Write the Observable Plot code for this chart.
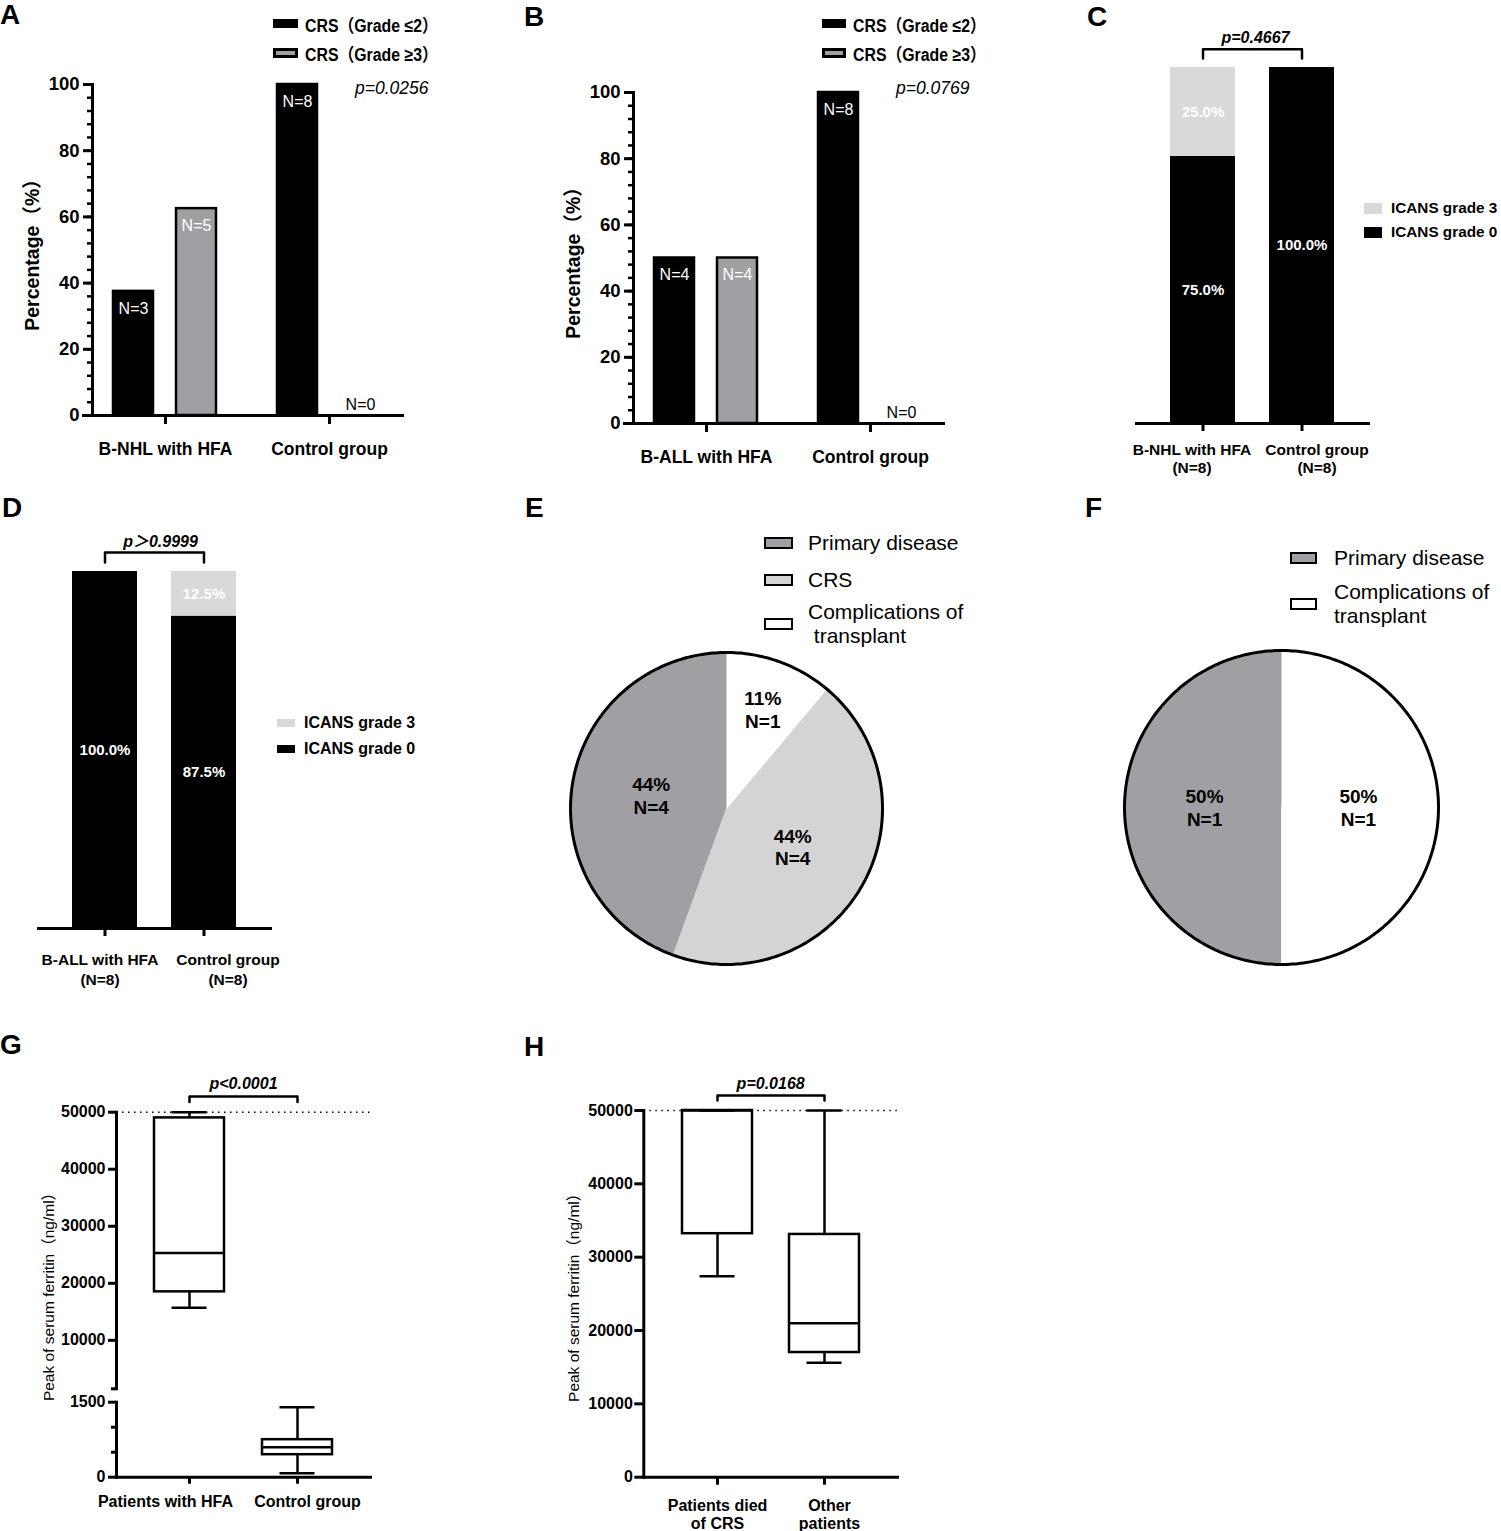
<!DOCTYPE html>
<html><head><meta charset="utf-8">
<script src="https://cdn.jsdelivr.net/npm/d3@7"></script>
<script src="https://cdn.jsdelivr.net/npm/@observablehq/plot@0.6"></script>
<style>
body{margin:0;background:#fff;}
#fig{position:relative;width:1501px;height:1531px;overflow:hidden;background:#fff;font-family:'Liberation Sans',Arial,Helvetica,'Noto Sans CJK SC',sans-serif;color:#000;}
.abs{position:absolute;}
.letter{position:absolute;font-weight:bold;font-size:28px;line-height:1;}
.leg{position:absolute;display:flex;align-items:center;white-space:pre;transform:translateY(-50%);}
</style></head><body><div id="fig"></div>
<script>
// ---------------- DATA ----------------
// Panel A: CRS grade, B-NHL
const groupsA = ["B-NHL with HFA", "Control group"];
const gradesCRS = ["CRS（Grade ≤2）", "CRS（Grade ≥3）"];
const pctA_le2 = [37.5, 100];
const pctA_ge3 = [62.5, 0];
const nA_le2 = [3, 8];
const nA_ge3 = [5, 0];
const pA = "p=0.0256";
// Panel B: CRS grade, B-ALL
const groupsB = ["B-ALL with HFA", "Control group"];
const pctB_le2 = [50, 100];
const pctB_ge3 = [50, 0];
const nB_le2 = [4, 8];
const nB_ge3 = [4, 0];
const pB = "p=0.0769";
// Panel C: ICANS, B-NHL
const icansGrades = ["ICANS grade 3", "ICANS grade 0"];
const groupsC = ["B-NHL with HFA\n(N=8)", "Control group\n(N=8)"];
const pctC_g0 = [75.0, 100.0];
const pctC_g3 = [25.0, 0];
const pC = "p=0.4667";
// Panel D: ICANS, B-ALL
const groupsD = ["B-ALL with HFA\n(N=8)", "Control group\n(N=8)"];
const pctD_g0 = [100.0, 87.5];
const pctD_g3 = [0, 12.5];
const pD = "p＞0.9999";
// Panel E: causes of death
const causesE = ["Primary disease", "CRS", "Complications of\n transplant"];
const nE = [4, 4, 1];
const pctE = [44, 44, 11];
// Panel F
const causesF = ["Primary disease", "Complications of\ntransplant"];
const nF = [1, 1];
const pctF = [50, 50];
// Panel G: peak serum ferritin (box: min, q1, median, q3, max)
const groupsG = ["Patients with HFA", "Control group"];
const minG = [15700, 80];
const q1G = [18500, 450];
const medG = [25300, 600];
const q3G = [49000, 750];
const maxG = [50000, 1400];
const pG = "p<0.0001";
// Panel H
const groupsH = ["Patients died\nof CRS", "Other\npatients"];
const minH = [27400, 15600];
const q1H = [33200, 17000];
const medH = [50000, 21000];
const q3H = [50000, 33100];
const maxH = [50000, 50000];
const pH = "p=0.0168";
const ferritinCap = 50000;
const yTicksPct = [0, 20, 40, 60, 80, 100];
const yTicksFerritin = [0, 10000, 20000, 30000, 40000, 50000];

// ---------------- STYLE ----------------
const FONT = "'Liberation Sans', Arial, Helvetica, 'Noto Sans CJK SC', sans-serif";
const BLACK = "#000", GREY = "#a0a0a4", LIGHT = "#d9d9d9", PIE_DARK = "#a0a0a4", PIE_LIGHT = "#d4d4d4";
const baseStyle = {fontFamily: FONT, background: "transparent", overflow: "visible", maxWidth: "none", color: "#000"};
const fig = document.getElementById("fig");

function mount(node, left, top, w) {
  const d = document.createElement("div");
  d.className = "abs";
  d.style.left = left + "px"; d.style.top = top + "px"; d.style.width = w + "px";
  d.appendChild(node); fig.appendChild(d);
}
function letter(t, left, capTop) {
  const d = document.createElement("div"); d.className = "letter"; d.textContent = t;
  d.style.left = left + "px"; d.style.top = (capTop - 4) + "px"; fig.appendChild(d);
}
function legendRow(x, cy, sw, sh, fill, border, gap, label, font, lh, squeeze) {
  const r = document.createElement("div"); r.className = "leg";
  r.style.left = x + "px"; r.style.top = cy + "px";
  const s = document.createElement("span");
  Object.assign(s.style, {display: "inline-block", width: sw + "px", height: sh + "px", background: fill,
    border: border ? `${border}px solid #000` : "none", boxSizing: "border-box", marginRight: gap + "px", flex: "none"});
  const t = document.createElement("span"); t.textContent = label; t.style.font = font; t.style.lineHeight = lh || "normal";
  if (squeeze) { t.style.display = "inline-block"; t.style.transform = `scaleX(${squeeze})`; t.style.transformOrigin = "left center"; }
  r.appendChild(s); r.appendChild(t); fig.appendChild(r);
}
// category labels with individual horizontal offsets (as in the original layout) + tick marks
function xAxisMarks(groups, offsets, o) {
  return [
    Plot.axisX({tickSize: o.tickSize, tickFormat: () => "", strokeWidth: 3, label: null}),
    ...groups.map((g, i) => Plot.axisX({ticks: [g], tickSize: 0, tickPadding: o.tickSize + o.tickPadding, dx: offsets[i],
      fontSize: o.fontSize, fontWeight: "bold", lineHeight: o.lineHeight, label: null}))
  ];
}

// ---------------- PANELS A & B ----------------
function crsRows(groups, le2, ge3, nle2, nge3) {
  const rows = [];
  groups.forEach((g, i) => {
    rows.push({group: g, grade: gradesCRS[0], pct: le2[i], n: nle2[i]});
    rows.push({group: g, grade: gradesCRS[1], pct: ge3[i], n: nge3[i]});
  });
  return rows;
}
function crsPlot(rows, groups, pText, pdy) {
  return Plot.plot({
    width: 490, height: 480, marginLeft: 92, marginRight: 88, marginTop: 84, marginBottom: 65,
    style: baseStyle,
    fx: {domain: groups, paddingInner: 0.11, paddingOuter: 0, axis: null, label: null},
    x: {domain: gradesCRS, paddingInner: 0.365, paddingOuter: 0.341, axis: null},
    y: {domain: [0, 100], axis: null},
    color: {domain: gradesCRS, range: [BLACK, GREY]},
    marks: [
      Plot.barY(rows, {fx: "group", x: "grade", y: "pct", fill: "grade", stroke: BLACK, strokeWidth: 2.5}),
      Plot.text(rows.filter(d => d.pct > 0), {fx: "group", x: "grade", y: "pct", text: d => `N=${d.n}`, dy: 17, fill: "white", fontSize: 16}),
      Plot.text(rows.filter(d => d.pct === 0), {fx: "group", x: "grade", y: "pct", text: d => `N=${d.n}`, dy: -11, fill: BLACK, fontSize: 16}),
      Plot.axisY({ticks: d3.range(0, 101, 4), tickSize: 5, tickFormat: () => "", strokeWidth: 2.5, label: null}),
      Plot.axisY({ticks: yTicksPct, tickSize: 9, tickPadding: 4, fontSize: 18.5, fontWeight: "bold", strokeWidth: 3, label: null}),
      Plot.axisY({ticks: [], label: "Percentage（%）", labelAnchor: "center", labelArrow: "none", labelOffset: 67, fontSize: 19.5, fontWeight: "bold"}),
      Plot.axisFx({anchor: "bottom", tickSize: 9, tickPadding: 18, fontSize: 17.5, fontWeight: "bold", strokeWidth: 3, label: null}),
      Plot.frame({anchor: "left", facet: "super", strokeWidth: 3}),
      Plot.frame({anchor: "bottom", facet: "super", strokeWidth: 3, insetLeft: -9}),
      Plot.text([pText], {facet: "super", text: d => d, frameAnchor: "top-right", textAnchor: "end", dx: 26, dy: pdy, fontStyle: "italic", fontSize: 17.5})
    ]
  });
}
mount(crsPlot(crsRows(groupsA, pctA_le2, pctA_ge3, nA_le2, nA_ge3), groupsA, pA, -3), 0, 0, 490);
mount(crsPlot(crsRows(groupsB, pctB_le2, pctB_ge3, nB_le2, nB_ge3), groupsB, pB, -11), 541, 8, 490);
const crsFont = `bold 18px ${FONT}`;
legendRow(273, 23.5, 25, 9, BLACK, 0, 7, gradesCRS[0], crsFont, "normal", 0.88);
legendRow(273, 53, 25, 10, GREY, 3, 7, gradesCRS[1], crsFont, "normal", 0.88);
legendRow(822, 23.5, 24, 9, BLACK, 0, 7, gradesCRS[0], crsFont, "normal", 0.88);
legendRow(822, 53, 24, 10, GREY, 3, 7, gradesCRS[1], crsFont, "normal", 0.88);

// ---------------- PANELS C & D ----------------
function icansRows(groups, g0, g3) {
  const rows = [];
  groups.forEach((g, i) => {
    rows.push({group: g, grade: icansGrades[1], pct: g0[i]});
    rows.push({group: g, grade: icansGrades[0], pct: g3[i]});
  });
  return rows;
}
function icansPlot(rows, groups, pText, c) {
  const br = [
    {group: groups[0], y: c.lo}, {group: groups[0], y: c.hi},
    {group: groups[1], y: c.hi}, {group: groups[1], y: c.lo}
  ];
  return Plot.plot({
    width: c.w, height: c.h, marginLeft: c.ml, marginRight: c.mr, marginTop: c.mt, marginBottom: c.mb,
    style: baseStyle,
    x: {domain: groups, padding: 0.343, axis: null},
    y: {domain: [0, 100], axis: null},
    color: {domain: icansGrades, range: [LIGHT, BLACK]},
    marks: [
      Plot.barY(rows, {x: "group", y: "pct", fill: "grade"}),
      Plot.text(rows, Plot.stackY({x: "group", y: "pct", z: "grade", text: d => d.pct > 0 ? d.pct.toFixed(1) + "%" : "", fill: "white", fontSize: 15, fontWeight: "bold"})),
      Plot.frame({anchor: "bottom", strokeWidth: 3}),
      ...xAxisMarks(groups, c.off, {tickSize: 8, tickPadding: c.tp, fontSize: 15.5, lineHeight: c.lh}),
      Plot.line(br, {x: "group", y: "y", strokeWidth: 2.5}),
      Plot.text([{label: pText, y: c.ty}], {y: "y", text: "label", frameAnchor: "middle", dx: c.pdx, fontSize: 16, fontWeight: "bold", fontStyle: "italic"})
    ]
  });
}
mount(icansPlot(icansRows(groupsC, pctC_g0, pctC_g3), groupsC, pC,
  {w: 501, h: 480, ml: 136, mr: 133, mt: 67, mb: 57, tp: 11, lh: 1.15, off: [-11, 15], hi: 105.1, lo: 102.5, ty: 108.4, pdx: 3}), 1000, 0, 501);
mount(icansPlot(icansRows(groupsD, pctD_g0, pctD_g3), groupsD, pD,
  {w: 500, h: 500, ml: 38, mr: 230, mt: 71, mb: 72, tp: 14, lh: 1.32, off: [-5, 24], hi: 105.3, lo: 102.5, ty: 108.4, pdx: 6}), 0, 500, 500);
legendRow(1364, 208, 18, 11, LIGHT, 0, 9, icansGrades[0], `bold 15.3px ${FONT}`);
legendRow(1364, 232, 18, 11, BLACK, 0, 9, icansGrades[1], `bold 15.3px ${FONT}`);
legendRow(277, 723, 18, 8, LIGHT, 0, 9, icansGrades[0], `bold 16px ${FONT}`);
legendRow(277, 749, 18, 8, BLACK, 0, 9, icansGrades[1], `bold 16px ${FONT}`);

// ---------------- PANELS E & F (pies) ----------------
function piePlot(causes, ns, pcts, fills, c) {
  const arcs = d3.pie().sort(null).startAngle(0).endAngle(-2 * Math.PI)(ns);
  const slices = [];
  arcs.forEach((a, i) => {
    const steps = Math.max(2, Math.ceil(Math.abs(a.endAngle - a.startAngle) * 180 / Math.PI));
    slices.push({cause: causes[i], px: 0, py: 0});
    for (let k = 0; k <= steps; k++) {
      const t = a.startAngle + (a.endAngle - a.startAngle) * k / steps;
      slices.push({cause: causes[i], px: Math.sin(t), py: Math.cos(t)});
    }
  });
  const ring = d3.range(0, 361).map(k => ({px: Math.sin(k * Math.PI / 180), py: Math.cos(k * Math.PI / 180)}));
  const labels = arcs.map((a, i) => {
    const m = (a.startAngle + a.endAngle) / 2;
    const frac = Math.abs(a.endAngle - a.startAngle) / (2 * Math.PI);
    const rr = frac < 0.2 ? 0.68 : 0.49;
    return {px: rr * Math.sin(m), py: rr * Math.cos(m), text: `${pcts[i]}%\nN=${ns[i]}`};
  });
  return Plot.plot({
    width: c.w, height: c.h, marginLeft: c.ml, marginRight: c.mr, marginTop: c.mt, marginBottom: c.mb,
    style: baseStyle,
    x: {domain: [-1, 1], axis: null}, y: {domain: [-1, 1], axis: null},
    color: {domain: causes, range: fills},
    marks: [
      Plot.line(slices, {x: "px", y: "py", z: "cause", fill: "cause", stroke: "cause", strokeWidth: 0.8}),
      Plot.line(ring, {x: "px", y: "py", strokeWidth: 3}),
      Plot.text(labels, {x: "px", y: "py", text: "text", fontSize: 19, fontWeight: "bold", lineHeight: 1.2})
    ]
  });
}
mount(piePlot(causesE, nE, pctE, [PIE_DARK, PIE_LIGHT, "#fff"], {w: 500, h: 500, ml: 70, mr: 118, mt: 152, mb: 36}), 500, 500, 500);
mount(piePlot(causesF, nF, pctF, [PIE_DARK, "#fff"], {w: 501, h: 500, ml: 124, mr: 63, mt: 150, mb: 36}), 1000, 500, 501);
const pieFont = `21px ${FONT}`;
legendRow(764, 543, 29, 12, PIE_DARK, 2.5, 15, causesE[0], pieFont);
legendRow(764, 580, 29, 12, PIE_LIGHT, 2.5, 15, causesE[1], pieFont);
legendRow(764, 624, 29, 12, "#fff", 2.5, 15, causesE[2], pieFont, "24px");
legendRow(1290, 558, 27, 12, PIE_DARK, 2.5, 17, causesF[0], pieFont);
legendRow(1290, 604, 27, 12, "#fff", 2.5, 17, causesF[1], pieFont, "24px");

// ---------------- PANELS G & H (boxes) ----------------
function boxRows(groups, mn, q1, md, q3, mx) {
  return groups.map((g, i) => ({group: g, min: mn[i], q1: q1[i], med: md[i], q3: q3[i], max: mx[i]}));
}
function boxMarks(rows, capInset) {
  return [
    Plot.ruleX(rows, {x: "group", y1: "min", y2: "max", strokeWidth: 2.5}),
    Plot.barY(rows, {x: "group", y1: "q1", y2: "q3", fill: "white", stroke: BLACK, strokeWidth: 2.5}),
    Plot.tickY(rows, {x: "group", y: "med", strokeWidth: 2.5}),
    Plot.tickY(rows, {x: "group", y: "min", strokeWidth: 2.5, inset: capInset}),
    Plot.tickY(rows, {x: "group", y: "max", strokeWidth: 2.5, inset: capInset})
  ];
}
function bracketMarks(groups, pText, hi, lo, ty) {
  const br = [{group: groups[0], y: lo}, {group: groups[0], y: hi}, {group: groups[1], y: hi}, {group: groups[1], y: lo}];
  return [
    Plot.line(br, {x: "group", y: "y", strokeWidth: 2.5}),
    Plot.text([{label: pText, y: ty}], {y: "y", text: "label", frameAnchor: "middle", fontSize: 16, fontWeight: "bold", fontStyle: "italic"})
  ];
}
const fmtInt = d3.format("d");
const rowsG = boxRows(groupsG, minG, q1G, medG, q3G, maxG);
const breakLow = 1500;   // axis break: lower segment 0–1500
// upper segment of G
mount(Plot.plot({
  width: 500, height: 360, marginLeft: 116, marginRight: 130, marginTop: 81.7, marginBottom: 1.7,
  style: baseStyle,
  x: {domain: groupsG, paddingInner: 0.355, paddingOuter: 0.348, axis: null},
  y: {domain: [breakLow, ferritinCap], axis: null},
  marks: [
    Plot.ruleY([ferritinCap], {strokeDasharray: "1.5,4.5", strokeWidth: 1.5}),
    ...boxMarks(rowsG.filter(d => d.min >= breakLow), 17.5),
    Plot.frame({anchor: "left", strokeWidth: 3}),
    Plot.axisY({ticks: yTicksFerritin.filter(t => t > breakLow), tickFormat: fmtInt, tickSize: 8, tickPadding: 3, fontSize: 16, fontWeight: "bold", strokeWidth: 3, label: null}),
    Plot.axisY({ticks: [breakLow], tickFormat: () => "", tickSize: 5, strokeWidth: 3, label: null}),
    ...bracketMarks(groupsG, pG, 52750, 51790, 55030)
  ]
}), 0, 1030, 500);
// lower segment of G
mount(Plot.plot({
  width: 500, height: 141, marginLeft: 116, marginRight: 130, marginTop: 11.7, marginBottom: 54.3,
  style: baseStyle,
  x: {domain: groupsG, paddingInner: 0.355, paddingOuter: 0.348, axis: null},
  y: {domain: [0, breakLow], axis: null},
  marks: [
    ...boxMarks(rowsG.filter(d => d.max <= breakLow), 17.5),
    Plot.frame({anchor: "left", strokeWidth: 3}),
    Plot.frame({anchor: "bottom", strokeWidth: 3}),
    Plot.axisY({ticks: [0, breakLow], tickFormat: fmtInt, tickSize: 8, tickPadding: 3, fontSize: 16, fontWeight: "bold", strokeWidth: 3, label: null}),
    Plot.axisY({ticks: [500, 1000], tickFormat: () => "", tickSize: 5, strokeWidth: 3, label: null}),
    ...xAxisMarks(groupsG, [-24, 10], {tickSize: 7, tickPadding: 10, fontSize: 16, lineHeight: 1.12})
  ]
}), 0, 1390, 500);
{
  const t = document.createElement("div");
  t.textContent = "Peak of serum ferritin（ng/ml）";
  Object.assign(t.style, {position: "absolute", left: "47px", top: "1293px", transform: "translate(-50%,-50%) rotate(-90deg)", whiteSpace: "nowrap", font: `15.5px ${FONT}`});
  fig.appendChild(t);
}
// H
const rowsH = boxRows(groupsH, minH, q1H, medH, q3H, maxH);
mount(Plot.plot({
  width: 500, height: 501, marginLeft: 143.3, marginRight: 103, marginTop: 80, marginBottom: 54.3,
  style: baseStyle,
  x: {domain: groupsH, paddingInner: 0.345, paddingOuter: 0.351, axis: null},
  y: {domain: [0, ferritinCap], axis: null},
  marks: [
    Plot.ruleY([ferritinCap], {strokeDasharray: "1.5,4.5", strokeWidth: 1.5}),
    ...boxMarks(rowsH, 17.5),
    Plot.frame({anchor: "left", strokeWidth: 3}),
    Plot.frame({anchor: "bottom", strokeWidth: 3}),
    Plot.axisY({ticks: yTicksFerritin, tickFormat: fmtInt, tickSize: 9, tickPadding: 2, fontSize: 16, fontWeight: "bold", strokeWidth: 3, label: null}),
    Plot.axisY({ticks: [], label: "Peak of serum ferritin（ng/ml）", labelAnchor: "center", labelArrow: "none", labelOffset: 76, fontSize: 15.5}),
    ...xAxisMarks(groupsH, [0, 5], {tickSize: 8, tickPadding: 13, fontSize: 16, lineHeight: 1.12}),
    ...bracketMarks(groupsH, pH, 52045, 51364, 53682)
  ]
}), 500, 1030, 500);

// ---------------- PANEL LETTERS ----------------
letter("A", 0, 5); letter("B", 524, 7); letter("C", 1087, 7);
letter("D", 2, 498); letter("E", 525, 498); letter("F", 1085, 498);
letter("G", 0, 1035); letter("H", 524, 1037);
</script></body></html>
